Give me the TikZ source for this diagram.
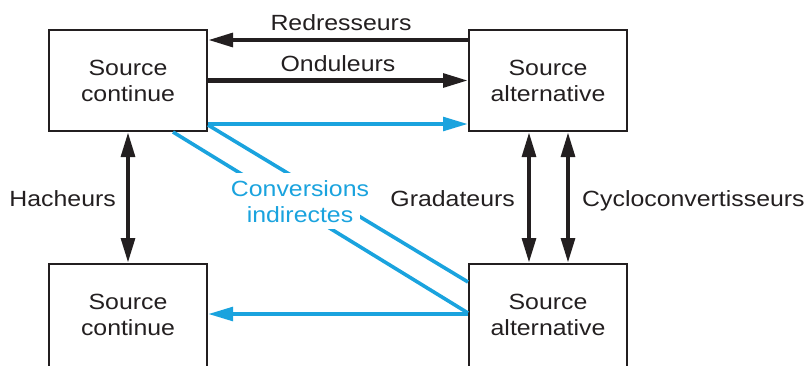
\documentclass[tikz,border=0pt]{standalone}
\usepackage{fontspec}
\setmainfont{Liberation Sans}[FakeStretch=1.13]
\usetikzlibrary{arrows.meta}
\definecolor{ink}{HTML}{231F20}
\definecolor{cyanb}{HTML}{1AA3DE}
\begin{document}
\begin{tikzpicture}[x=1pt,y=-1pt,
  box/.style={draw=ink, line width=2.4pt, minimum width=157.6pt, minimum height=100.6pt,
    inner sep=0pt, align=center, text=ink, font=\fontsize{22}{26}\selectfont},
  lowbox/.style={box, minimum height=106.6pt, text depth=6pt},
  lbl/.style={text=ink, font=\fontsize{22}{26}\selectfont, inner sep=0pt},
  blbl/.style={lbl, text=cyanb, fill=white, inner sep=7pt, anchor=base},
  tip/.tip={Triangle[length=25pt,width=13.5pt]},
  conn/.style={draw=ink, line width=4.4pt, -tip},
  dconn/.style={draw=ink, line width=4.4pt, tip-tip},
  bconn/.style={draw=cyanb, line width=4pt, -tip},
  bline/.style={draw=cyanb, line width=3.6pt},
]
\useasboundingbox (0,0) rectangle (810,365);
\clip (0,0) rectangle (810,365);

\node[box] (tl) at (128,80.5) {Source\\continue};
\node[box] (tr) at (548,80.5) {Source\\alternative};
\node[lowbox] (bl) at (128,317.5) {Source\\continue};
\node[lowbox] (br) at (548,317.5) {Source\\alternative};

\draw[conn] ([yshift=40.5pt]tr.west) -- node[lbl, anchor=base, yshift=10pt, xshift=3pt]{Redresseurs} ([yshift=40.5pt]tl.east);
\draw[conn] (tl.east) -- node[lbl, anchor=base, yshift=9.5pt]{Onduleurs} (tr.west);
\draw[bconn] ([yshift=-43.5pt]tl.east) -- ([yshift=-43.5pt]tr.west);
\draw[bconn] ([yshift=3.5pt]br.west) -- ([yshift=3.5pt]bl.east);

\draw[dconn] (tl.south) -- node[lbl, anchor=base east, xshift=-10pt, yshift=-8.5pt]{Hacheurs} (bl.north);
\draw[dconn] ([xshift=-19pt]tr.south) -- node[lbl, anchor=base east, xshift=-12pt, yshift=-8.5pt]{Gradateurs} ([xshift=-19pt]br.north);
\draw[dconn] ([xshift=20pt]tr.south) -- node[lbl, anchor=base west, xshift=12pt, yshift=-8.5pt]{Cycloconvertisseurs} ([xshift=20pt]br.north);

\draw[bline] ([xshift=45pt]tl.south) -- ([yshift=4.5pt]br.west);
\draw[bline] ([yshift=-44.5pt]tl.east) -- ([yshift=35.5pt]br.west);

\node[blbl] (c1) at (300,196) {Conversions};
\node[blbl] (c2) at (300,222) {indirectes};
\end{tikzpicture}
\end{document}
